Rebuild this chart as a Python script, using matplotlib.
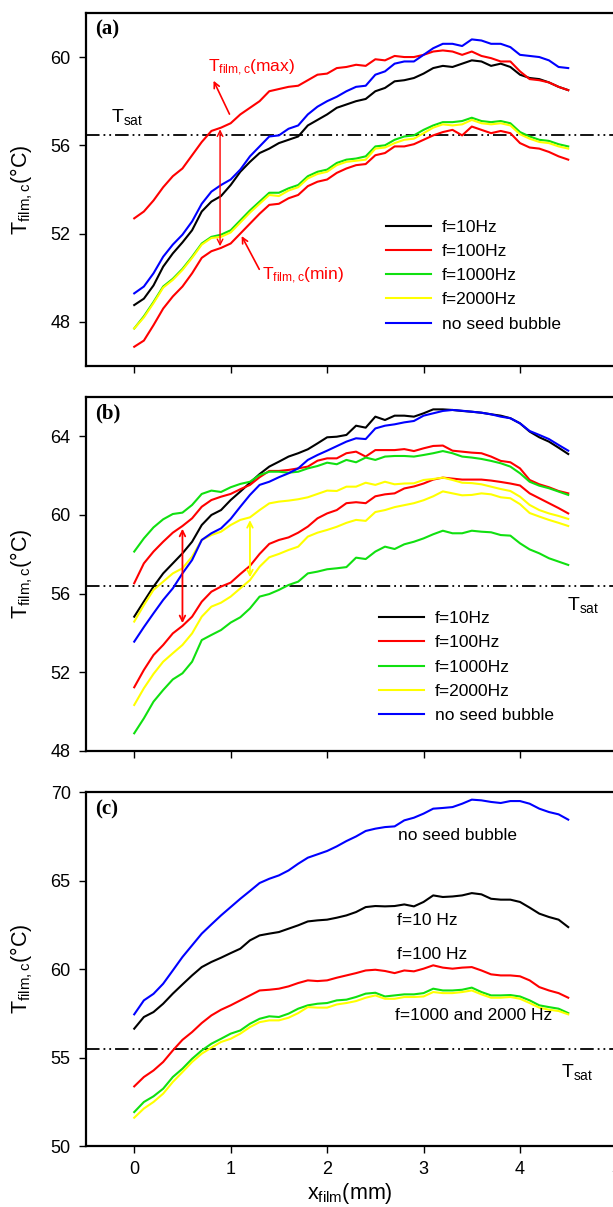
import numpy as np
import matplotlib
matplotlib.use("Agg")
import matplotlib.pyplot as plt

plt.rcParams['font.family'] = ['Liberation Sans', 'DejaVu Sans']
plt.rcParams['mathtext.fontset'] = 'custom'
plt.rcParams['mathtext.rm'] = 'Liberation Sans'
plt.rcParams['mathtext.it'] = 'Liberation Sans'
plt.rcParams['mathtext.default'] = 'regular'

# film position (mm), sampled every 0.1 mm
x_mm = np.linspace(0, 4.5, 46)

labels = ["f=10Hz", "f=100Hz", "f=1000Hz", "f=2000Hz", "no seed bubble"]
colors = ["black", "#ff0000", "#10e010", "#ffff00", "#0000ff"]

# ---- panel (a) ----
a_black = [48.76, 49.05, 49.65, 50.5, 51.1, 51.6, 52.15, 53.0, 53.45, 53.7,
           54.2, 54.8, 55.25, 55.65, 55.85, 56.1, 56.25, 56.4, 56.9, 57.15,
           57.4, 57.7, 57.85, 58.0, 58.1, 58.45, 58.6, 58.9, 58.95, 59.05,
           59.25, 59.5, 59.6, 59.55, 59.7, 59.85, 59.8, 59.6, 59.7, 59.55,
           59.2, 59.05, 59.0, 58.85, 58.65, 58.5]
a_red_max = [52.69, 53.0, 53.5, 54.1, 54.6, 54.95, 55.55, 56.15, 56.65, 56.8,
             57.0, 57.4, 57.7, 58.0, 58.45, 58.55, 58.65, 58.7, 58.95, 59.2,
             59.25, 59.5, 59.55, 59.65, 59.6, 59.9, 59.85, 60.05, 60.0, 60.0,
             60.1, 60.25, 60.3, 60.25, 60.1, 60.25, 60.05, 59.95, 59.8, 59.8,
             59.35, 59.0, 58.95, 58.85, 58.65, 58.5]
a_red_min = [46.87, 47.15, 47.85, 48.6, 49.15, 49.6, 50.2, 50.9, 51.2, 51.35,
             51.55, 52.0, 52.45, 52.9, 53.3, 53.35, 53.6, 53.75, 54.15, 54.35,
             54.45, 54.75, 54.95, 55.1, 55.15, 55.55, 55.65, 55.95, 55.95, 56.05,
             56.25, 56.45, 56.6, 56.7, 56.45, 56.85, 56.7, 56.55, 56.65, 56.55,
             56.1, 55.9, 55.85, 55.7, 55.5, 55.35]
a_green = [47.7, 48.25, 48.9, 49.6, 49.95, 50.4, 50.95, 51.55, 51.85, 51.95,
           52.15, 52.6, 53.05, 53.45, 53.85, 53.85, 54.05, 54.2, 54.6, 54.8,
           54.9, 55.2, 55.35, 55.4, 55.5, 55.95, 56.0, 56.25, 56.4, 56.45,
           56.7, 56.9, 57.05, 57.05, 57.1, 57.25, 57.1, 57.05, 57.1, 57.0,
           56.6, 56.4, 56.25, 56.2, 56.05, 55.95]
a_yellow = [47.7, 48.2, 48.85, 49.55, 49.9, 50.35, 50.9, 51.5, 51.8, 51.85,
            52.05, 52.5, 52.95, 53.35, 53.75, 53.7, 53.95, 54.1, 54.5, 54.7,
            54.8, 55.1, 55.25, 55.3, 55.35, 55.85, 55.9, 56.1, 56.25, 56.3,
            56.55, 56.8, 56.95, 56.9, 56.95, 57.15, 57.0, 56.95, 57.0, 56.9,
            56.5, 56.3, 56.15, 56.1, 55.95, 55.85]
a_blue = [49.29, 49.6, 50.2, 50.95, 51.5, 51.95, 52.55, 53.35, 53.9, 54.2,
          54.45, 54.9, 55.5, 55.95, 56.4, 56.45, 56.75, 56.9, 57.4, 57.75,
          58.0, 58.2, 58.45, 58.65, 58.7, 59.2, 59.35, 59.7, 59.8, 59.8,
          60.1, 60.4, 60.6, 60.6, 60.5, 60.8, 60.75, 60.6, 60.6, 60.45,
          60.1, 60.05, 60.0, 59.85, 59.55, 59.5]

# ---- panel (b) ----
b_black = [54.83, 55.6, 56.36, 57.03, 57.54, 58.05, 58.64, 59.49, 60.0, 60.25,
           60.76, 61.19, 61.64, 62.08, 62.46, 62.71, 62.97, 63.14, 63.34, 63.64,
           63.95, 63.98, 64.07, 64.54, 64.44, 65.0, 64.83, 65.05, 65.05, 65.0,
           65.17, 65.37, 65.37, 65.34, 65.29, 65.25, 65.2, 65.12, 65.05, 64.92,
           64.66, 64.24, 63.95, 63.73, 63.42, 63.1]
b_red_up = [56.53, 57.54, 58.14, 58.64, 59.1, 59.44, 59.83, 60.42, 60.76, 60.93,
            61.07, 61.31, 61.53, 61.92, 62.24, 62.24, 62.29, 62.37, 62.46, 62.76,
            62.88, 62.88, 63.14, 63.22, 62.97, 63.3, 63.3, 63.3, 63.35, 63.25,
            63.39, 63.51, 63.53, 63.27, 63.22, 63.17, 63.14, 62.97, 62.75, 62.68,
            62.37, 61.78, 61.56, 61.41, 61.22, 61.1]
b_red_low = [51.24, 52.12, 52.88, 53.39, 53.98, 54.36, 54.83, 55.59, 56.1, 56.36,
             56.56, 57.0, 57.41, 58.02, 58.53, 58.73, 58.86, 59.1, 59.41, 59.83,
             60.08, 60.25, 60.6, 60.65, 60.6, 60.95, 61.05, 61.1, 61.35, 61.45,
             61.6, 61.8, 61.9, 61.85, 61.8, 61.8, 61.8, 61.75, 61.68, 61.6,
             61.5, 61.1, 60.85, 60.6, 60.35, 60.08]
b_green_up = [58.14, 58.81, 59.37, 59.78, 60.05, 60.12, 60.51, 61.07, 61.24, 61.17,
              61.41, 61.58, 61.69, 62.03, 62.2, 62.2, 62.15, 62.2, 62.37, 62.49,
              62.66, 62.58, 62.8, 62.68, 62.92, 62.8, 62.97, 63.0, 63.0, 62.97,
              63.05, 63.14, 63.25, 63.14, 62.97, 62.92, 62.85, 62.75, 62.63, 62.46,
              62.12, 61.69, 61.49, 61.36, 61.19, 61.02]
b_green_low = [48.9, 49.66, 50.51, 51.1, 51.64, 51.95, 52.54, 53.64, 53.9, 54.15,
               54.53, 54.8, 55.25, 55.85, 55.98, 56.19, 56.44, 56.61, 57.03, 57.12,
               57.24, 57.29, 57.35, 57.83, 57.76, 58.14, 58.39, 58.27, 58.51, 58.64,
               58.81, 59.02, 59.2, 59.07, 59.07, 59.2, 59.15, 59.12, 58.98, 58.95,
               58.56, 58.25, 58.05, 57.8, 57.63, 57.46]
b_yellow_up = [54.58, 55.42, 56.19, 56.61, 57.03, 57.29, 57.88, 58.73, 58.98, 59.15,
               59.49, 59.75, 59.88, 60.25, 60.59, 60.68, 60.73, 60.8, 60.9, 61.07,
               61.24, 61.22, 61.44, 61.44, 61.64, 61.53, 61.69, 61.56, 61.6, 61.61,
               61.78, 61.83, 61.9, 61.78, 61.64, 61.62, 61.56, 61.44, 61.32, 61.22,
               60.93, 60.51, 60.25, 60.08, 59.95, 59.8]
b_yellow_low = [50.34, 51.19, 51.92, 52.54, 52.97, 53.39, 53.98, 54.83, 55.34, 55.54,
                55.85, 56.27, 56.69, 57.37, 57.85, 58.02, 58.22, 58.39, 58.9, 59.1,
                59.24, 59.4, 59.6, 59.75, 59.7, 60.15, 60.25, 60.4, 60.5, 60.6,
                60.75, 60.95, 61.2, 61.1, 61.0, 61.02, 61.1, 61.05, 60.9, 60.85,
                60.55, 60.1, 59.92, 59.75, 59.6, 59.44]
b_blue = [53.56, 54.3, 55.0, 55.68, 56.27, 57.03, 57.71, 58.73, 59.07, 59.32,
          59.8, 60.42, 61.02, 61.53, 61.69, 61.92, 62.12, 62.37, 62.8, 63.05,
          63.27, 63.5, 63.73, 63.9, 63.86, 64.4, 64.54, 64.61, 64.71, 64.78,
          65.05, 65.17, 65.29, 65.34, 65.3, 65.25, 65.2, 65.12, 65.0, 64.92,
          64.66, 64.27, 64.07, 63.86, 63.56, 63.27]

# ---- panel (c) ----
c_black = [56.63, 57.29, 57.57, 58.04, 58.61, 59.13, 59.64, 60.11, 60.4, 60.64,
           60.9, 61.15, 61.62, 61.9, 62.0, 62.09, 62.28, 62.47, 62.69, 62.75,
           62.79, 62.9, 63.03, 63.22, 63.5, 63.56, 63.54, 63.56, 63.65, 63.54,
           63.79, 64.16, 64.07, 64.1, 64.16, 64.29, 64.22, 63.97, 63.92, 63.92,
           63.79, 63.47, 63.13, 62.94, 62.79, 62.37]
c_red = [53.37, 53.9, 54.27, 54.75, 55.4, 56.0, 56.44, 56.95, 57.38, 57.7,
         57.95, 58.23, 58.51, 58.79, 58.83, 58.89, 59.02, 59.21, 59.36, 59.32,
         59.36, 59.51, 59.64, 59.77, 59.92, 59.96, 59.89, 59.77, 59.92, 59.87,
         60.02, 60.21, 60.08, 60.02, 60.08, 60.11, 59.92, 59.7, 59.64, 59.64,
         59.59, 59.36, 58.98, 58.79, 58.64, 58.38]
c_green = [51.92, 52.49, 52.81, 53.24, 53.9, 54.37, 54.93, 55.4, 55.78, 56.06,
           56.35, 56.53, 56.91, 57.19, 57.33, 57.29, 57.48, 57.76, 57.95, 58.04,
           58.08, 58.23, 58.27, 58.42, 58.61, 58.66, 58.45, 58.51, 58.57, 58.57,
           58.64, 58.89, 58.79, 58.79, 58.83, 58.95, 58.7, 58.51, 58.51, 58.53,
           58.45, 58.23, 57.95, 57.85, 57.76, 57.51]
c_yellow = [51.6, 52.12, 52.49, 52.96, 53.62, 54.18, 54.75, 55.22, 55.56, 55.88,
            56.06, 56.35, 56.72, 57.0, 57.1, 57.1, 57.25, 57.51, 57.85, 57.82,
            57.82, 58.0, 58.08, 58.19, 58.38, 58.51, 58.32, 58.32, 58.42, 58.42,
            58.45, 58.7, 58.64, 58.64, 58.7, 58.79, 58.57, 58.38, 58.38, 58.42,
            58.32, 58.08, 57.82, 57.7, 57.63, 57.44]
c_blue = [57.44, 58.23, 58.6, 59.17, 59.92, 60.68, 61.34, 62.0, 62.52, 63.03,
          63.5, 63.97, 64.41, 64.86, 65.1, 65.29, 65.57, 65.95, 66.29, 66.48,
          66.67, 66.93, 67.23, 67.49, 67.8, 67.93, 68.02, 68.06, 68.4, 68.55,
          68.78, 69.06, 69.1, 69.15, 69.34, 69.57, 69.53, 69.44, 69.38, 69.49,
          69.49, 69.34, 69.06, 68.87, 68.74, 68.44]

t_sat = [56.45, 56.4, 55.5]
ylims = [(46, 62), (48, 66), (50, 70)]
yticks = [[48, 52, 56, 60], [48, 52, 56, 60, 64], [50, 55, 60, 65, 70]]
panel_names = ["(a)", "(b)", "(c)"]

fig = plt.figure(figsize=(6.13, 12.07), dpi=100)
positions = [[0.1403, 0.6968, 0.944, 0.2925],
             [0.1403, 0.3778, 0.944, 0.2933],
             [0.1403, 0.0505, 0.944, 0.2933]]
axes = [fig.add_axes(p) for p in positions]

lw = 1.5
tsat_style = (0, (7.5, 2.2, 1, 2.2, 1, 2.2))

for i, ax in enumerate(axes):
    ax.set_xlim(-0.5, 5.5)
    ax.set_ylim(*ylims[i])
    ax.set_xticks([0, 1, 2, 3, 4, 5])
    ax.set_yticks(yticks[i])
    for s in ax.spines.values():
        s.set_linewidth(1.6)
    ax.tick_params(direction='out', length=5, width=1, labelsize=13, pad=6,
                   top=False, right=False)
    ax.axhline(t_sat[i], color='black', lw=1.3, linestyle=tsat_style)
    ax.text(0.016, 0.952, panel_names[i], transform=ax.transAxes,
            fontfamily='Liberation Serif', fontweight='bold', fontsize=15, va='center')
    ax.set_ylabel('T$_{film,c}$(°C)', fontsize=15.5)
    ax.yaxis.set_label_coords(-0.088, 0.5)

leg_opts = dict(loc='upper left', frameon=False, borderaxespad=0, borderpad=0,
                fontsize=12.5, handlelength=2.6, handletextpad=0.65, labelspacing=0.52)

# panel (a)
ax = axes[0]
h = []
h += ax.plot(x_mm, a_black, color=colors[0], lw=lw)
h += ax.plot(x_mm, a_red_max, color=colors[1], lw=lw)
ax.plot(x_mm, a_red_min, color=colors[1], lw=lw)
h += ax.plot(x_mm, a_green, color=colors[2], lw=lw)
h += ax.plot(x_mm, a_yellow, color=colors[3], lw=lw)
h += ax.plot(x_mm, a_blue, color=colors[4], lw=lw)
ax.legend(h, labels, bbox_to_anchor=(0.518, 0.414), **leg_opts)
ax.tick_params(labelbottom=False)
ax.text(-0.24, 57.3, 'T$_{sat}$', fontsize=14, va='center')
ax.annotate('', xy=(0.89, 56.85), xytext=(0.89, 51.3),
            arrowprops=dict(arrowstyle='<->', color='red', lw=1.0))
ax.annotate('', xy=(0.81, 59.04), xytext=(1.0, 57.3),
            arrowprops=dict(arrowstyle='->', color='red', lw=1.2))
ax.annotate('', xy=(1.1, 52.0), xytext=(1.31, 50.27),
            arrowprops=dict(arrowstyle='->', color='red', lw=1.2))
ax.text(0.76, 59.5, 'T$_{film,c}$(max)', color='red', fontsize=12.5, va='center')
ax.text(1.33, 50.1, 'T$_{film,c}$(min)', color='red', fontsize=12.5, va='center')

# panel (b)
ax = axes[1]
h = []
h += ax.plot(x_mm, b_black, color=colors[0], lw=lw)
h += ax.plot(x_mm, b_red_up, color=colors[1], lw=lw)
ax.plot(x_mm, b_red_low, color=colors[1], lw=lw)
h += ax.plot(x_mm, b_green_up, color=colors[2], lw=lw)
ax.plot(x_mm, b_green_low, color=colors[2], lw=lw)
h += ax.plot(x_mm, b_yellow_up, color=colors[3], lw=lw)
ax.plot(x_mm, b_yellow_low, color=colors[3], lw=lw)
h += ax.plot(x_mm, b_blue, color=colors[4], lw=lw)
ax.legend(h, labels, bbox_to_anchor=(0.506, 0.395), **leg_opts)
ax.tick_params(labelbottom=False)
ax.text(4.49, 55.4, 'T$_{sat}$', fontsize=14, va='center')
ax.annotate('', xy=(0.5, 59.44), xytext=(0.5, 54.36),
            arrowprops=dict(arrowstyle='<->', color='red', lw=1.3))
ax.annotate('', xy=(1.2, 59.88), xytext=(1.2, 56.69),
            arrowprops=dict(arrowstyle='<->', color='#ffff00', lw=1.3))

# panel (c)
ax = axes[2]
ax.plot(x_mm, c_black, color=colors[0], lw=lw)
ax.plot(x_mm, c_red, color=colors[1], lw=lw)
ax.plot(x_mm, c_green, color=colors[2], lw=lw)
ax.plot(x_mm, c_yellow, color=colors[3], lw=lw)
ax.plot(x_mm, c_blue, color=colors[4], lw=lw)
ax.text(2.74, 67.55, 'no seed bubble', fontsize=12.5, va='center')
ax.text(2.72, 62.75, 'f=10 Hz', fontsize=12.5, va='center')
ax.text(2.72, 60.8, 'f=100 Hz', fontsize=12.5, va='center')
ax.text(2.70, 57.38, 'f=1000 and 2000 Hz', fontsize=12.5, va='center')
ax.text(4.42, 54.18, 'T$_{sat}$', fontsize=14, va='center')
ax.set_xlabel('x$_{film}$(mm)', fontsize=15.5)
ax.xaxis.set_label_coords(0.456, -0.10)

fig.savefig("out.png", dpi=100)
